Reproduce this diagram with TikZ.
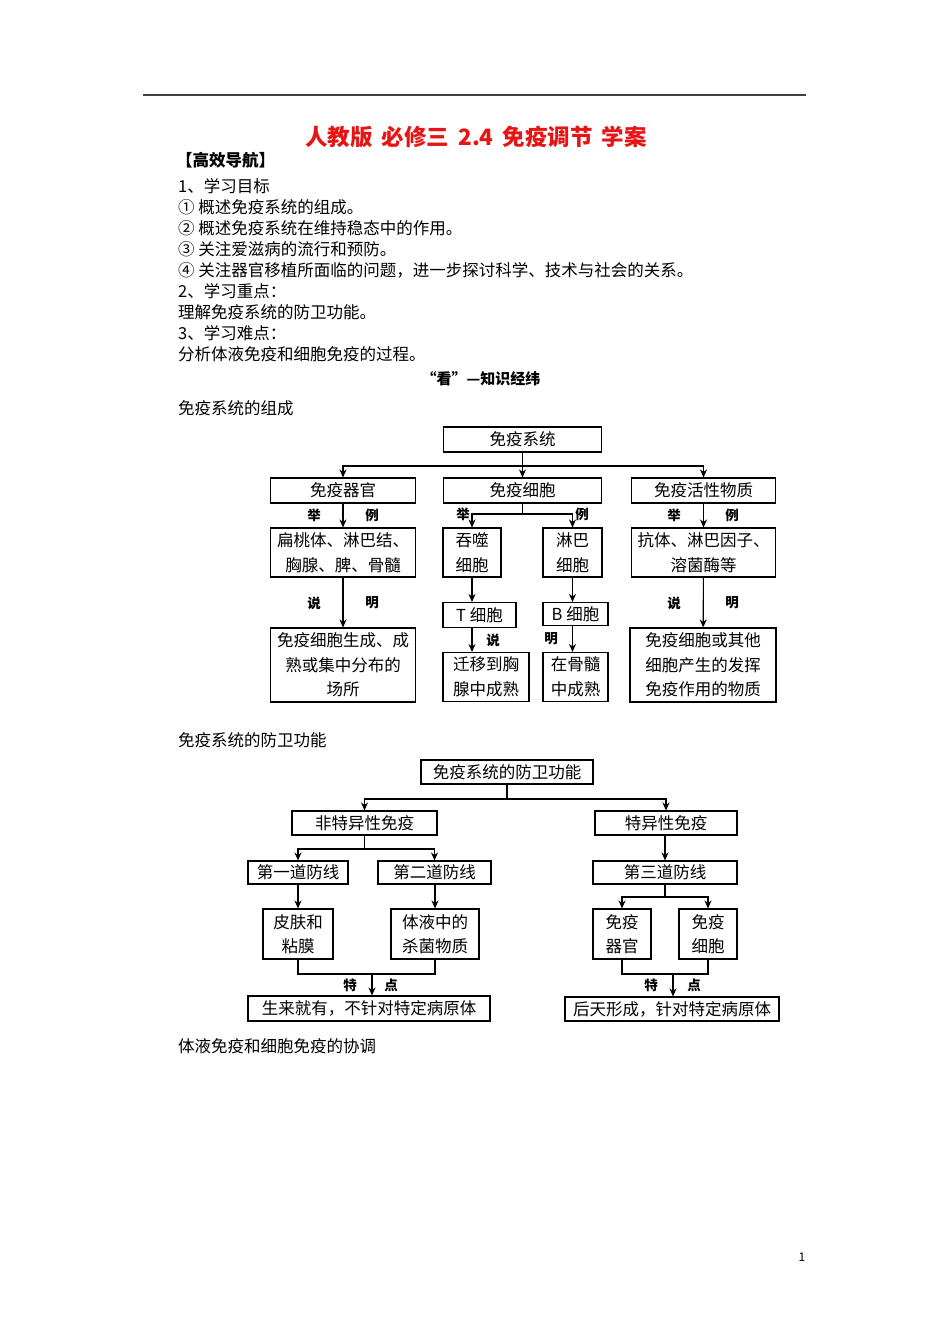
\documentclass[tikz,border=0pt]{standalone}
\usepackage{fontspec}
\setmainfont{Noto Sans CJK SC}
\usetikzlibrary{arrows.meta}
\definecolor{titleRed}{RGB}{232,20,20}
\definecolor{ruleGray}{RGB}{64,64,64}

\begin{document}
\begin{tikzpicture}[x=1pt, y=-1pt,
    box/.style={rectangle, draw=black, line width=1.1pt, inner sep=0pt, align=center,
                font=\fontsize{16.5}{24.5}\selectfont},
    arr/.style={-{Stealth[length=8pt, width=7pt, inset=2.5pt]}, line width=1.1pt},
    ln/.style={line width=1.1pt},
    txt/.style={anchor=west, inner sep=0pt, font=\fontsize{16.5}{20}\selectfont},
    lbl/.style={inner sep=0pt, font=\fontsize{13.5}{15}\selectfont\bfseries}]

    \useasboundingbox (0,0) rectangle (950,1344);

    % Page head
    \draw[line width=1.4pt, ruleGray] (143,95) -- (806,95);
    \node[inner sep=0pt, font=\fontsize{22.5}{26}\selectfont\bfseries, text=titleRed]
      (title) at (476,137) {人教版\hspace{9pt}必修三\hspace{9pt}2.4\hspace{9pt}免疫调节\hspace{9pt}学案};

    % Study guide text
    \node[txt, font=\fontsize{16.5}{20}\selectfont\bfseries] (guide) at (176,160) {【高效导航】};
    \node[txt] (t1) at (178,186) {1、学习目标};
    \node[txt] (t2) at (178,207) {① 概述免疫系统的组成。};
    \node[txt] (t3) at (178,228) {② 概述免疫系统在维持稳态中的作用。};
    \node[txt] (t4) at (178,249) {③ 关注爱滋病的流行和预防。};
    \node[txt] (t5) at (178,270) {④ 关注器官移植所面临的问题，进一步探讨科学、技术与社会的关系。};
    \node[txt] (t6) at (178,291) {2、学习重点：};
    \node[txt] (t7) at (178,312) {理解免疫系统的防卫功能。};
    \node[txt] (t8) at (178,333) {3、学习难点：};
    \node[txt] (t9) at (178,354) {分析体液免疫和细胞免疫的过程。};
    \node[inner sep=0pt, font=\fontsize{15}{18}\selectfont\bfseries] (look) at (481,379) {“看”—知识经纬};
    \node[txt] (h1) at (178,408) {免疫系统的组成};

    % Composition of the immune system
    \node[box, minimum width=158, minimum height=25] (sys) at (522.5,439.5) {免疫系统};
    \node[box, minimum width=145, minimum height=25] (organ) at (343,490.5) {免疫器官};
    \node[box, minimum width=158, minimum height=25] (cell) at (522.5,490.5) {免疫细胞};
    \node[box, minimum width=144, minimum height=25] (active) at (703.5,490.5) {免疫活性物质};
    \node[box, minimum width=145, minimum height=49] (organEx) at (343,552.5) {扁桃体、淋巴结、\\胸腺、脾、骨髓};
    \node[box, minimum width=58, minimum height=49] (phago) at (472,552.5) {吞噬\\细胞};
    \node[box, minimum width=59, minimum height=49] (lymph) at (572.5,552.5) {淋巴\\细胞};
    \node[box, minimum width=144, minimum height=49] (activeEx) at (703.5,552.5) {抗体、淋巴因子、\\溶菌酶等};
    \node[box, minimum width=73, minimum height=25] (tcell) at (479.5,615) {T 细胞};
    \node[box, minimum width=65, minimum height=23] (bcell) at (575.5,614) {B 细胞};
    \node[box, minimum width=145, minimum height=74] (organUse) at (343,665) {免疫细胞生成、成\\熟或集中分布的\\场所};
    \node[box, minimum width=86, minimum height=49] (tMature) at (486,677) {迁移到胸\\腺中成熟};
    \node[box, minimum width=65, minimum height=49] (bMature) at (575.5,677) {在骨髓\\中成熟};
    \node[box, minimum width=146, minimum height=74] (activeUse) at (703,665) {免疫细胞或其他\\细胞产生的发挥\\免疫作用的物质};

    \coordinate (j1) at (522.5,466);
    \coordinate (j2) at (522.5,514);
    \draw[ln] (sys) -- (j1);
    \draw[arr] (j1) -| (organ.north);
    \draw[arr] (j1) -- (cell.north);
    \draw[arr] (j1) -| (active.north);
    \draw[arr] (organ) -- (organEx);
    \draw[ln] (cell) -- (j2);
    \draw[arr] (j2) -| (phago.north);
    \draw[arr] (j2) -| (lymph.north);
    \draw[arr] (active) -- (activeEx);
    \draw[arr] (organEx) -- (organUse);
    \draw[arr] (phago.south) -- (phago.south |- tcell.north);
    \draw[arr] (lymph.south) -- (lymph.south |- bcell.north);
    \draw[arr] (tcell.south -| phago) -- (tMature.north -| phago);
    \draw[arr] (bcell.south -| lymph) -- (bMature.north -| lymph);
    \draw[arr] (activeEx) -- (activeUse);

    \node[lbl] (ju1) at (314,515) {举};
    \node[lbl] (li1) at (372,515) {例};
    \node[lbl] (ju2) at (463,514) {举};
    \node[lbl] (li2) at (582,514) {例};
    \node[lbl] (ju3) at (674,515) {举};
    \node[lbl] (li3) at (732,515) {例};
    \node[lbl] (sh1) at (314,603) {说};
    \node[lbl] (mi1) at (372,603) {明};
    \node[lbl] (sh2) at (493,640) {说};
    \node[lbl] (mi2) at (551,639) {明};
    \node[lbl] (sh3) at (674,603) {说};
    \node[lbl] (mi3) at (732,603) {明};

    % Defence function
    \node[txt] (h2) at (178,740) {免疫系统的防卫功能};
    \node[box, minimum width=172, minimum height=24] (defence) at (507,772) {免疫系统的防卫功能};
    \node[box, minimum width=145, minimum height=24] (nonspec) at (364.5,823) {非特异性免疫};
    \node[box, minimum width=142, minimum height=24] (spec) at (666,823) {特异性免疫};
    \node[box, minimum width=100, minimum height=23] (first) at (298,872.5) {第一道防线};
    \node[box, minimum width=113, minimum height=23] (second) at (434.5,872.5) {第二道防线};
    \node[box, minimum width=144, minimum height=23] (third) at (665,872.5) {第三道防线};
    \node[box, minimum width=70, minimum height=50] (skin) at (298,934) {皮肤和\\粘膜};
    \node[box, minimum width=88, minimum height=50] (fluid) at (435,934) {体液中的\\杀菌物质};
    \node[box, minimum width=58, minimum height=50] (organTwo) at (622,934) {免疫\\器官};
    \node[box, minimum width=58, minimum height=50] (cellTwo) at (708,934) {免疫\\细胞};
    \node[box, minimum width=242, minimum height=25] (innate) at (369,1008.5) {生来就有，不针对特定病原体};
    \node[box, minimum width=214, minimum height=24] (acquired) at (672,1009) {后天形成，针对特定病原体};

    \coordinate (j3) at (507,799);
    \coordinate (j4) at (364.5,849);
    \coordinate (j5) at (665,897);
    \coordinate (j6) at (372,974);
    \coordinate (j7) at (673,974);
    \draw[ln] (defence) -- (j3);
    \draw[arr] (j3) -| (nonspec.north);
    \draw[arr] (j3) -| (spec.north);
    \draw[ln] (nonspec) -- (j4);
    \draw[arr] (j4) -| (first.north);
    \draw[arr] (j4) -| (second.north);
    \draw[arr] (spec.south -| third) -- (third.north);
    \draw[arr] (first) -- (skin);
    \draw[arr] (second.south -| fluid) -- (fluid.north);
    \draw[ln] (third) -- (j5);
    \draw[arr] (j5) -| (organTwo.north);
    \draw[arr] (j5) -| (cellTwo.north);
    \draw[ln] (skin.south) |- (j6) -| (fluid.south);
    \draw[arr] (j6) -- (j6 |- innate.north);
    \draw[ln] (organTwo.south) |- (j7) -| (cellTwo.south);
    \draw[arr] (j7) -- (j7 |- acquired.north);

    \node[lbl] (te1) at (350,985) {特};
    \node[lbl] (di1) at (391,985) {点};
    \node[lbl] (te2) at (651,985) {特};
    \node[lbl] (di2) at (694,985) {点};

    % Page foot
    \node[txt] (h3) at (178,1046) {体液免疫和细胞免疫的协调};
    \node[inner sep=0pt, font=\fontsize{12}{14}\selectfont] (page) at (802,1257) {1};

\end{tikzpicture}
\end{document}
